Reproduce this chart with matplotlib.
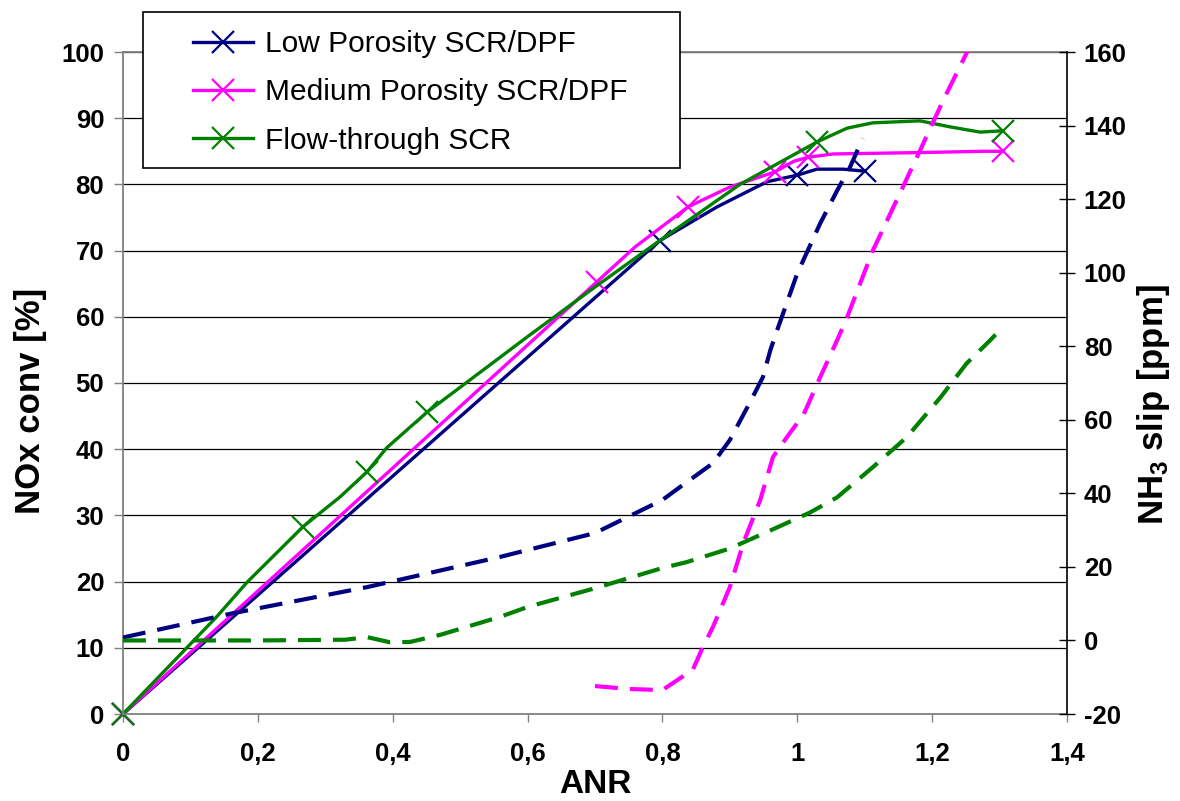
import matplotlib
matplotlib.use('Agg')
import matplotlib.pyplot as plt
from matplotlib.lines import Line2D
from matplotlib.patches import Rectangle

plt.rcParams['font.family'] = ['Liberation Sans', 'DejaVu Sans']
plt.rcParams['mathtext.default'] = 'regular'
plt.rcParams['axes.unicode_minus'] = False

# NOx conversion [%] vs ANR (solid lines, left axis)
low_x = [0, 0.796, 0.881, 0.955, 1.0, 1.029, 1.068, 1.1]
low_y = [0, 71.5, 76.6, 80.4, 81.4, 82.3, 82.3, 82.0]
low_marks = [0, 1, 4, 7]

med_x = [0, 0.703, 0.76, 0.838, 0.90, 0.967, 0.995, 1.016, 1.053, 1.177, 1.275, 1.305]
med_y = [0, 65.3, 70.6, 76.6, 79.6, 81.9, 83.5, 84.1, 84.6, 84.8, 85.0, 85.0]
med_marks = [0, 1, 3, 5, 7, 11]

flow_x = [0, 0.139, 0.184, 0.267, 0.322, 0.362, 0.391, 0.421, 0.451, 0.6, 0.7,
          0.8, 0.915, 1.029, 1.074, 1.112, 1.182, 1.226, 1.271, 1.305]
flow_y = [0, 14.7, 19.9, 28.3, 32.8, 36.6, 40.2, 42.9, 45.6, 57.0, 64.5,
          71.8, 80.0, 86.4, 88.5, 89.3, 89.6, 88.7, 87.9, 88.1]
flow_marks = [0, 3, 5, 8, 13, 19]

# NH3 slip [ppm] vs ANR (dashed lines, right axis)
low_slip_x = [0, 0.163, 0.362, 0.559, 0.7, 0.8, 0.826, 0.875, 0.9, 0.93, 0.949,
              0.96, 0.97, 1.0, 1.034, 1.059, 1.078, 1.097]
low_slip_y = [0.8, 7.4, 14.5, 22.7, 29.2, 38.2, 41.7, 48.2, 54.5, 64.8, 71.6,
              78.9, 84.3, 99.8, 113.4, 122.3, 128.6, 136.5]

med_slip_x = [0.70, 0.75, 0.80, 0.826, 0.845, 0.86, 0.875, 0.90, 0.92, 0.945, 0.964,
              0.989, 1.009, 1.034, 1.059, 1.074, 1.112, 1.152, 1.182, 1.216, 1.26]
med_slip_y = [-12.4, -13.2, -13.5, -10.3, -8.0, -1.8, 3.7, 14.5, 26.5, 38.2, 49.9,
              56.4, 61.3, 71.6, 81.6, 87.9, 106, 121.5, 133.2, 146.7, 163]

flow_slip_x = [0, 0.2, 0.33, 0.362, 0.396, 0.426, 0.47, 0.559, 0.6, 0.7, 0.8, 0.836,
               0.9, 0.96, 1.019, 1.059, 1.112, 1.162, 1.212, 1.251, 1.286, 1.305]
flow_slip_y = [0, 0, 0.2, 0.9, -0.5, -0.4, 1.5, 6.4, 9.1, 14.2, 19.7, 21.3,
               25.0, 29.9, 34.8, 38.9, 47.1, 55.2, 66.0, 75.3, 81.6, 85.3]

labels = ['Low Porosity SCR/DPF', 'Medium Porosity SCR/DPF', 'Flow-through SCR']
colors = ['#000080', '#FF00FF', '#008000']

x_ticks = [0, 0.2, 0.4, 0.6, 0.8, 1.0, 1.2, 1.4]
x_ticklabels = ['0', '0,2', '0,4', '0,6', '0,8', '1', '1,2', '1,4']

fig = plt.figure(figsize=(11.8, 8.01), dpi=100)
ax = fig.add_axes([123 / 1180, 87 / 801, 944 / 1180, 662 / 801])
ax2 = ax.twinx()

conv = [(low_x, low_y, low_marks), (med_x, med_y, med_marks), (flow_x, flow_y, flow_marks)]
for (xs, ys, mk), c in zip(conv, colors):
    ax.plot(xs, ys, color=c, lw=2.4, marker='x', markevery=mk,
            markersize=16, markeredgewidth=1.6, clip_on=False)

slips = [(low_slip_x, low_slip_y), (med_slip_x, med_slip_y), (flow_slip_x, flow_slip_y)]
for (xs, ys), c in zip(slips, colors):
    ax2.plot(xs, ys, color=c, lw=3, dashes=(5.5, 2.9))

ax.set_xlim(0, 1.4)
ax.set_ylim(0, 100)
ax.set_yticks(range(0, 101, 10))
ax.set_xticks(x_ticks)
ax.set_xticklabels(x_ticklabels)
ax2.set_ylim(-20, 160)
ax2.set_yticks(range(-20, 161, 20))

ax.yaxis.grid(True, color='black', lw=0.9)
for s in ['top', 'left', 'bottom']:
    ax.spines[s].set_color('#808080')
    ax.spines[s].set_linewidth(1.3)
ax.spines['right'].set_visible(False)
for s in ['top', 'left', 'bottom']:
    ax2.spines[s].set_visible(False)
ax2.spines['right'].set_color('black')
ax2.spines['right'].set_linewidth(1.2)

ax.tick_params(axis='y', direction='out', length=6.5, width=1, color='#808080',
               labelsize=18.5, pad=7)
ax.tick_params(axis='x', direction='out', length=6, width=1, color='#808080',
               labelsize=18.5, pad=14)
ax2.tick_params(axis='y', direction='inout', length=12, width=1, color='black',
                labelsize=18.5, pad=6)
for t in ax.get_xticklabels() + ax.get_yticklabels() + ax2.get_yticklabels():
    t.set_fontweight('bold')

ax.set_ylabel('NOx conv [%]', fontsize=25, fontweight='bold', va='center')
ax.yaxis.set_label_coords(-0.0985, 0.473)
ax2.set_ylabel('NH$_3$ slip [ppm]', fontsize=25, fontweight='bold', va='center', rotation=90)
ax2.yaxis.set_label_coords(1.092, 0.467)
ax.set_xlabel('ANR', fontsize=24, fontweight='bold', va='center')
ax.xaxis.set_label_coords(0.5, -0.106)

# legend box
fig.patches.append(Rectangle((143 / 1180, 1 - 168 / 801), 537 / 1180, 156 / 801,
                             transform=fig.transFigure, facecolor='white',
                             edgecolor='black', lw=1.2, zorder=5))
handles = [Line2D([], [], color=c, lw=2.4, marker='x', markersize=16,
                  markeredgewidth=1.6) for c in colors]
leg = fig.legend(handles, labels, loc='upper left', bbox_to_anchor=(193 / 1180, 1 - 30 / 801),
                 frameon=False, borderpad=0, borderaxespad=0, handlelength=2.0,
                 handletextpad=0.42, labelspacing=0.68,
                 prop={'size': 21.5, 'weight': 'normal'})
leg.set_zorder(6)

fig.savefig('out.png', dpi=100)
